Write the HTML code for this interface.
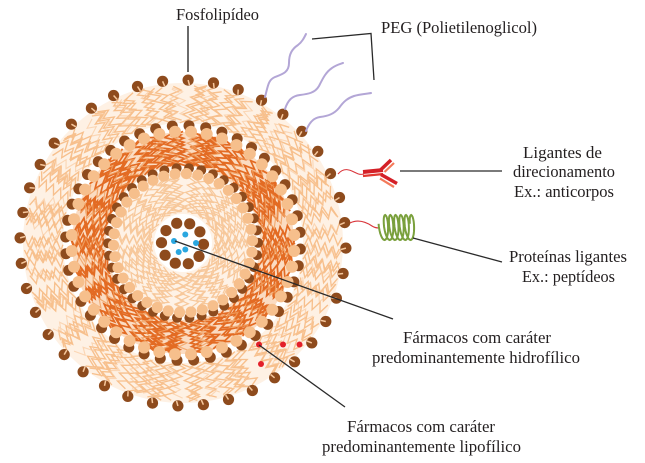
<!DOCTYPE html>
<html><head><meta charset="utf-8">
<style>
html,body{margin:0;padding:0;background:#fff;}
svg{display:block;}
text{font-family:"Liberation Serif","Times New Roman",serif;font-size:16.5px;fill:#231f20;}
</style></head>
<body>
<svg id="s" xmlns="http://www.w3.org/2000/svg" width="645" height="463" viewBox="0 0 645 463">
<rect width="645" height="463" fill="#fff"/>
<!-- base tone fills -->
<circle cx="183" cy="243" r="140" fill="none" stroke="#fef1e4" stroke-width="40"/>
<circle cx="183" cy="243" r="94" fill="none" stroke="#fbdcc2" stroke-width="34"/>
<circle cx="183" cy="243" r="48" fill="none" stroke="#fef2e6" stroke-width="38"/>
<g id="zz"></g>
<g id="dots"></g>
<!-- red lipophilic drugs -->
<g fill="#e3202a">
<circle cx="259" cy="344.5" r="3"/>
<circle cx="283" cy="344.5" r="3"/>
<circle cx="299.5" cy="344.5" r="3"/>
<circle cx="261" cy="364" r="3"/>
</g>
<!-- PEG strands -->
<g fill="none" stroke="#b3a6d6" stroke-width="2" stroke-linecap="round">
<path d="M265 97 C268 86 268 80 275 77 C283 74 289 72 289 63 C289 54 292 49 298 45 C302 42 304 38 306 34"/>
<path d="M285 109 C288 100 292 96 300 95 C308 94 315 93 319 86 C323 78 326 72 332 68 C336 65 340 64 343 63"/>
<path d="M306 131 C309 123 313 118 320 117 C328 116 334 114 339 108 C344 101 348 98 354 96 C360 94 366 94 371 93"/>
</g>
<!-- antibody -->
<path d="M338 174 C344 167 350 170 354 172 C358 174 360 175 364 174" fill="none" stroke="#d9343a" stroke-width="1.1"/>
<g stroke-linecap="butt" fill="none">
<line x1="363" y1="172" x2="383" y2="170" stroke="#d42027" stroke-width="4"/>
<line x1="363" y1="176" x2="383" y2="174" stroke="#e2372f" stroke-width="2.2"/>
<line x1="380" y1="170.5" x2="391" y2="160" stroke="#d42027" stroke-width="3.5"/>
<line x1="384.5" y1="172" x2="394" y2="163" stroke="#f47a5a" stroke-width="2.2"/>
<line x1="381" y1="174.5" x2="397" y2="183.5" stroke="#d42027" stroke-width="3.5"/>
<line x1="380" y1="178.5" x2="394" y2="187" stroke="#f47a5a" stroke-width="2.2"/>
</g>
<!-- peptide tether -->
<path d="M350 223 C358 219 366 222 372 226 C375 228 377 228 379 228" fill="none" stroke="#d9343a" stroke-width="1.1"/>
<path id="coil" d="" fill="none" stroke="#7aa03c" stroke-width="2"/>
<!-- leader lines -->
<g stroke="#2a2a2a" stroke-width="1.3" fill="none">
<line x1="188" y1="26" x2="188" y2="72" stroke="#5a5a5a" stroke-width="1.8"/>
<polyline points="312,39 371,33.5 374,80"/>
<line x1="400" y1="171" x2="502" y2="171"/>
<line x1="413" y1="238" x2="502" y2="262"/>
<line x1="175" y1="241" x2="393" y2="319"/>
<line x1="259" y1="345" x2="345" y2="407"/>
</g>
<!-- labels -->
<text x="176" y="20" textLength="83" lengthAdjust="spacingAndGlyphs">Fosfolipídeo</text>
<text x="381" y="33" textLength="156" lengthAdjust="spacingAndGlyphs">PEG (Polietilenoglicol)</text>
<text x="523" y="158" textLength="79" lengthAdjust="spacingAndGlyphs">Ligantes de</text>
<text x="513" y="177" textLength="102" lengthAdjust="spacingAndGlyphs">direcionamento</text>
<text x="514" y="197" textLength="100" lengthAdjust="spacingAndGlyphs">Ex.: anticorpos</text>
<text x="509" y="262" textLength="118" lengthAdjust="spacingAndGlyphs">Proteínas ligantes</text>
<text x="522" y="282" textLength="93" lengthAdjust="spacingAndGlyphs">Ex.: peptídeos</text>
<text x="403" y="343" textLength="148" lengthAdjust="spacingAndGlyphs">Fármacos com caráter</text>
<text x="372" y="363" textLength="208" lengthAdjust="spacingAndGlyphs">predominantemente hidrofílico</text>
<text x="347" y="432" textLength="148" lengthAdjust="spacingAndGlyphs">Fármacos com caráter</text>
<text x="322" y="452" textLength="199" lengthAdjust="spacingAndGlyphs">predominantemente lipofílico</text>
</svg>
<script>
(function(){
var NS='http://www.w3.org/2000/svg';
var cx=183, cy=243;
var seed=12345;
function rnd(){seed=(seed*16807)%2147483647;return seed/2147483647;}
function P(r,t,o){var s=Math.sin(t),c=Math.cos(t);return [cx+r*s+o*c, cy-r*c+o*s];}
var zz=document.getElementById('zz'), dots=document.getElementById('dots');
function zone(r1,r2,n,amp,step,color,w,op){
  var d='';
  for(var k=0;k<n;k++){
    var t=(k+rnd()*0.6)/n*2*Math.PI;
    var a=r1+rnd()*3, b=r2-rnd()*3;
    var m=Math.max(2,Math.round((b-a)/step));
    var ph=rnd()<0.5?1:-1;
    var tilt=(rnd()-0.5)*0.25;
    for(var i=0;i<=m;i++){
      var r=a+(b-a)*i/m;
      var o=(i%2?amp:-amp)*ph;
      var p=P(r,t+tilt*(i/m),o);
      d+=(i?'L':'M')+p[0].toFixed(1)+' '+p[1].toFixed(1);
    }
  }
  var e=document.createElementNS(NS,'path');
  e.setAttribute('d',d);e.setAttribute('fill','none');e.setAttribute('stroke',color);
  e.setAttribute('stroke-width',w);e.setAttribute('stroke-opacity',op);e.setAttribute('stroke-linejoin','miter');
  zz.appendChild(e);
}
function circ(g,x,y,r,f){var c=document.createElementNS(NS,'circle');c.setAttribute('cx',x.toFixed(1));c.setAttribute('cy',y.toFixed(1));c.setAttribute('r',r);c.setAttribute('fill',f);g.appendChild(c);}
function line(g,x1,y1,x2,y2,col,w){var l=document.createElementNS(NS,'line');l.setAttribute('x1',x1.toFixed(1));l.setAttribute('y1',y1.toFixed(1));l.setAttribute('x2',x2.toFixed(1));l.setAttribute('y2',y2.toFixed(1));l.setAttribute('stroke',col);l.setAttribute('stroke-width',w);g.appendChild(l);}

/* zigzag textures */
zone(30,67,72,4,3.6,'#f7c597',1.2,0.95);
zone(77,112,104,4.8,3.6,'#e1641a',1.7,0.95);
zone(79,110,36,4.5,4,'#f0a060',1.2,0.8);
zone(120,159,118,4.8,4.2,'#f7bd88',1.35,0.95);
zone(123,156,40,4.5,4.5,'#f9cba0',1.1,0.7);

var BR='#8e4b1d', PE='#f6bf8c';
/* inner ring */
var n=38;
for(var k=0;k<n;k++){var t=(k+0.3)/n*2*Math.PI;var p=P(75,t+0.03,0);circ(dots,p[0],p[1],5,BR);}
for(var k=0;k<n;k++){var t=(k+0.3)/n*2*Math.PI;var p=P(69.5,t,0);circ(dots,p[0],p[1],5.6,PE);}
/* middle ring */
n=44;
for(var k=0;k<n;k++){var t=(k+0.5)/n*2*Math.PI;var p=P(117.5,t-0.02,0);circ(dots,p[0],p[1],5.5,BR);}
for(var k=0;k<n;k++){var t=(k+0.5)/n*2*Math.PI;var p=P(111.5,t,0);circ(dots,p[0],p[1],6,PE);}
/* outer ring */
n=40;
for(var k=0;k<n;k++){
  var t=(1.8+k*9)*Math.PI/180;
  var p=P(163,t,0);circ(dots,p[0],p[1],5.6,BR);
  var q=P(158,t,1.5);line(dots,p[0],p[1],q[0],q[1],'#f6c79c',1.5);
}
/* core */
for(var k=0;k<10;k++){var t=k/10*2*Math.PI+0.35;var p=P(21,t,0);circ(dots,p[0]-0.5,p[1]+0.5,5.6,BR);}
var bl=[[174,241],[185.3,234.5],[196,243],[185.3,249.5],[178.7,252]];
for(var i=0;i<bl.length;i++)circ(dots,bl[i][0],bl[i][1],3,'#2aa7e0');

/* peptide coil */
var d='',x0=382,yc=227.5,pitch=5.2,rx=3.4,ry=12.5,T=6;
for(var i=0;i<=T*24;i++){var u=i/24;var x=x0+pitch*u-rx*Math.cos(2*Math.PI*u);var y=yc+ry*Math.sin(2*Math.PI*u-0.3);
 d+=(i?'L':'M')+x.toFixed(1)+' '+y.toFixed(1);}
document.getElementById('coil').setAttribute('d',d);
})();
</script>
</body></html>
